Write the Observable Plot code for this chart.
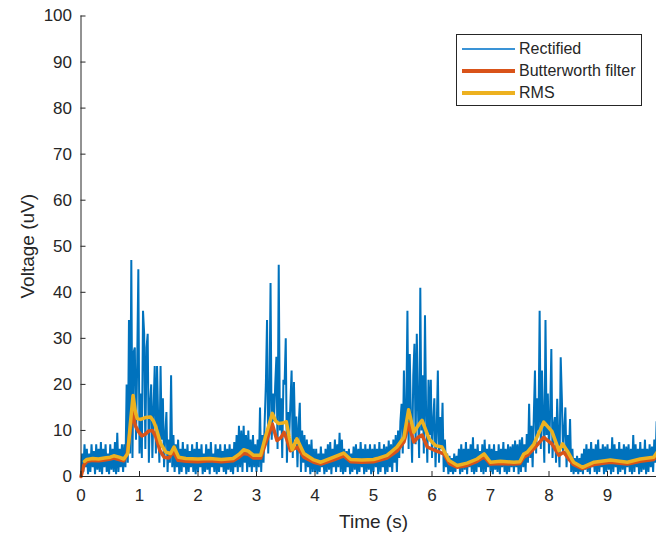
<!DOCTYPE html>
<html>
<head>
<meta charset="utf-8">
<script src="https://cdn.jsdelivr.net/npm/d3@7"></script>
<script src="https://cdn.jsdelivr.net/npm/@observablehq/plot@0.6"></script>
<style>
  html, body { margin: 0; padding: 0; background: #fff; }
  #wrap { position: relative; width: 656px; height: 533px; overflow: hidden; font-family: "Liberation Sans", Arial, sans-serif; }
  #legend { position: absolute; left: 456px; top: 34px; width: 186px; height: 72px; box-sizing: border-box; border: 1px solid #262626; background: #fff; }
  .row { position: absolute; left: 0; height: 20px; width: 100%; }
  .sw { position: absolute; left: 5px; width: 53px; top: 9px; }
  .lab { position: absolute; left: 62px; top: 0; font-size: 16px; line-height: 20px; color: #262626; white-space: nowrap; }
</style>
</head>
<body>
<div id="wrap"></div>
<script>
// Rectified EMG, sampled every 0.02 s starting at t = 0 (values in uV)
const rectStep = 0.02;
const rectified = [
  0,5,1,7,2,6,0.5,5,1,7, 2,5.5,0.5,7,1.5,6,1,7.5,0.5,6, 2,7,1,5,0.5,7,1.5,6,1,7.5, 0.5,9.5,1,6,2,7,1,7,2,20, 3,34,5,47,4,27,28,8,24,45,
  5,18,4,36,31,6,28,31,3,16, 20,4,15,24,5,24,12,3,24,8, 17,2,9,14,1,8,3,22,2,9, 1,7,2,8,0.5,6,1,7.5,2,6, 0.5,7,1,5.5,2,7,1,6,0.5,7.5,
  1,6,2,7,0.5,5,1,7,1.5,6, 0.5,7.5,2,5,1,7,0.5,6,1,7, 2,5.5,1,7,0.5,6,1.5,7,1,6, 0.5,7.5,2,9,1,11,2,10,1,11, 3,9,1,10,2,8,1,9,2,7,
  1,8,2,15,1,9,3,12,20,34, 5,16,42,8,18,12,20,26,6,46, 10,17,4,21,20,30,3,14,9,16, 23,4,20.5,8,13,2,11,16,1,10, 3,9,1,8,2,7,0.5,8,1,6,
  1,6,0.5,5,1,6.5,2,5,0.5,6, 1,7,1.5,7.5,0.5,6,2,8,1,7, 2,9.5,1,8,0.5,6,1,5.5,2,6, 0.5,5,1,6.5,1.5,7,0.5,6,1,7.5, 2,6,0.5,7,1,6,1.5,7,0.5,6,
  1,7,2,6,0.5,7.5,1,6,2,7, 0.5,6.5,1,7.8,2,7,1,8,3,9, 1,10,4,12,15.8,5,23,8,14,36, 6,26.6,12,3,22,28.8,7,31,15,4, 41,10,22,5,35,13,3,21,9,21,
  4,12,17,2,10,23,3,12.9,6,16, 1,8,2,5,0.5,4.5,1,4,0.5,5, 1,4.5,2,6,0.5,7,1,6,1.5,7.5, 0.5,6,2,7,1,8.5,0.5,6,1,7, 2,5.5,1,7,0.5,8,1,6,2,7,
  1,6,0.5,7,1.5,5.5,1,7,0.5,6, 2,7.5,1,6,0.5,7,1,6.5,2,7, 1,7.8,2,7,0.5,8,1,8.5,2,7, 1,9.2,3,15.8,4,11,2,13,23,5, 17,10,36,6,23,12,3,34,9,18,
  5,14,27.7,4,11,12.9,3,16.9,8,2, 25.9,17,5,10,15,2,9,4,12.5,1, 6,0.5,4,1,4.5,0.5,4,1,5,0.5, 6,1.5,7,1,6,0.5,7.5,2,6,1, 7,0.5,8,1,6,2,7,0.5,6.5,1,
  7,1.5,6,0.5,8.5,1,7,2,6,0.5, 7.5,1,6,1.5,7,0.5,6.5,2,7,1, 6,0.5,9,1,7,2,6,0.5,7.5,1, 6,1.5,8,0.5,6,1,7,2,6.5,1, 8,3,12,5
];

// Butterworth-filtered envelope
const butterT = [0,0.05,0.1,0.2,0.3,0.4,0.5,0.56,0.65,0.73, 0.79,0.84,0.88,0.93,0.98,1.04,1.1,1.16,1.22,1.28, 1.35,1.42,1.5,1.58,1.66,1.8,2.0,2.2,2.4,2.6, 2.7,2.78,2.86,2.95,3.07,3.15,3.22,3.27,3.35,3.42, 3.47,3.52,3.58,3.7,3.81,3.98,4.1,4.32,4.49,4.61, 4.8,5.0,5.23,5.4,5.52,5.6,5.69,5.76,5.83,5.92, 6.06,6.2,6.3,6.43,6.6,6.77,6.89,7.0,7.17,7.4, 7.5,7.57,7.63,7.74,7.91,8.05,8.17,8.25,8.34,8.42, 8.57,8.77,9.05,9.34,9.56,9.79,9.86];
const butterV = [0,2.5,3.3,3.5,3.4,3.6,3.8,4.0,3.7,3.4, 5,10,14,11,9.8,8.8,9.2,9.9,10,8.6, 5.6,4.2,4.0,5.4,3.5,3.3,3.2,3.4,3.2,3.4, 4.2,5.0,4.8,4.0,4.0,7,9.5,11.4,7.8,8.5, 9.6,8,5.6,6.4,4.2,3.1,2.7,3.6,4.5,3.2, 3.1,3.2,4.0,5.5,7.5,11.4,7.5,8.5,9.0,6.4, 5.6,4.9,2.8,2.0,2.4,3.3,4.3,2.7,2.8,2.7, 2.8,4.2,4.6,6,8.5,7.1,4.6,5.3,3.8,2.6, 1.7,2.6,3.1,2.7,3.3,3.7,4.8];

// RMS envelope
const rmsT = [0.06,0.1,0.2,0.3,0.4,0.5,0.56,0.65,0.73,0.8, 0.84,0.89,0.93,0.96,1.02,1.1,1.19,1.24,1.28,1.36, 1.45,1.53,1.59,1.67,1.79,2.0,2.2,2.4,2.6,2.7, 2.78,2.86,2.95,3.07,3.15,3.22,3.27,3.33,3.38,3.45, 3.51,3.56,3.61,3.69,3.81,3.98,4.1,4.32,4.49,4.61, 4.8,5.0,5.06,5.23,5.4,5.52,5.6,5.69,5.76,5.83, 5.95,6.06,6.17,6.29,6.43,6.6,6.77,6.89,7.0,7.17, 7.4,7.5,7.57,7.63,7.74,7.91,8.05,8.17,8.23,8.31, 8.42,8.57,8.77,9.05,9.34,9.56,9.79,9.86];
const rmsV = [3.3,3.7,3.9,3.8,4.0,4.2,4.5,4.2,3.8,5.0, 11,17.6,14,12.6,12.4,12.8,12.9,12,10.7,7.2, 5.3,5.0,6.4,4.2,3.9,3.8,3.9,3.7,3.9,4.8, 5.8,5.5,4.6,4.6,8.5,11.5,13.7,12,11.5,11.6, 11.9,8.5,5.8,8.2,5.0,3.6,3.1,4.2,5.1,3.7, 3.6,3.7,3.9,4.6,6.4,8.5,14.5,9.6,11,12.2, 8.2,6.7,6.4,3.5,2.4,2.9,3.8,4.9,3.1,3.3, 3.1,3.2,4.9,5.3,7.0,11.8,9.8,5.6,7.1,5.6, 3.1,2.0,3.1,3.6,3.1,3.8,4.2,5.5];

const xTicks = [0,1,2,3,4,5,6,7,8,9];
const yTicks = [0,10,20,30,40,50,60,70,80,90,100];
const seriesNames = ["Rectified", "Butterworth filter", "RMS"];
const seriesColors = ["#0072BD", "#D95319", "#EDB120"];
const xLabel = "Time (s)";
const yLabel = "Voltage (uV)";

const rectData = rectified.map((v, i) => ({t: i * rectStep, v}));
const butterData = butterT.map((t, i) => ({t, v: butterV[i]}));
const rmsData = rmsT.map((t, i) => ({t, v: rmsV[i]}));

const axisColor = "#262626";
const chart = Plot.plot({
  width: 656,
  height: 533,
  marginLeft: 80.5,
  marginRight: -9.5,
  marginTop: 15.5,
  marginBottom: 57,
  style: {fontFamily: "'Liberation Sans', Arial, sans-serif", fontSize: "17px", color: axisColor, background: "white", overflow: "hidden"},
  x: {domain: [0, 10]},
  y: {domain: [0, 100]},
  marks: [
    Plot.line(rectData, {x: "t", y: "v", stroke: seriesColors[0], strokeWidth: 2, strokeLinejoin: "miter"}),
    Plot.line(butterData, {x: "t", y: "v", stroke: seriesColors[1], strokeWidth: 3.5, strokeLinejoin: "round"}),
    Plot.line(rmsData, {x: "t", y: "v", stroke: seriesColors[2], strokeWidth: 3.5, strokeLinejoin: "round"}),
    Plot.ruleX([0], {stroke: axisColor, strokeWidth: 1}),
    Plot.ruleY([0], {stroke: axisColor, strokeWidth: 1}),
    Plot.axisX({ticks: xTicks, tickSize: -5, tickPadding: 17, label: null, stroke: axisColor, fill: axisColor, fontSize: 17}),
    Plot.axisY({ticks: yTicks, tickSize: -5, tickPadding: 14, label: null, stroke: axisColor, fill: axisColor, fontSize: 17}),
    Plot.text([xLabel], {frameAnchor: "bottom", dy: 45, lineAnchor: "middle", textAnchor: "middle", fontSize: 19, fill: axisColor}),
    Plot.text([yLabel], {frameAnchor: "left", dx: -53.5, rotate: -90, lineAnchor: "middle", textAnchor: "middle", fontSize: 19, fill: axisColor})
  ]
});
const wrap = document.getElementById("wrap");
wrap.appendChild(chart);

// Legend
const legend = document.createElement("div");
legend.id = "legend";
const widths = [1.6, 3.5, 3.5];
const legendColors = ["#3a93d6", seriesColors[1], seriesColors[2]];
seriesNames.forEach((name, i) => {
  const row = document.createElement("div");
  row.className = "row";
  row.style.top = (4 + i * 22) + "px";
  const sw = document.createElement("div");
  sw.className = "sw";
  sw.style.height = widths[i] + "px";
  sw.style.marginTop = (-widths[i] / 2 + 1) + "px";
  sw.style.background = legendColors[i];
  const lab = document.createElement("div");
  lab.className = "lab";
  lab.textContent = name;
  row.appendChild(sw);
  row.appendChild(lab);
  legend.appendChild(row);
});
wrap.appendChild(legend);
</script>
</body>
</html>
